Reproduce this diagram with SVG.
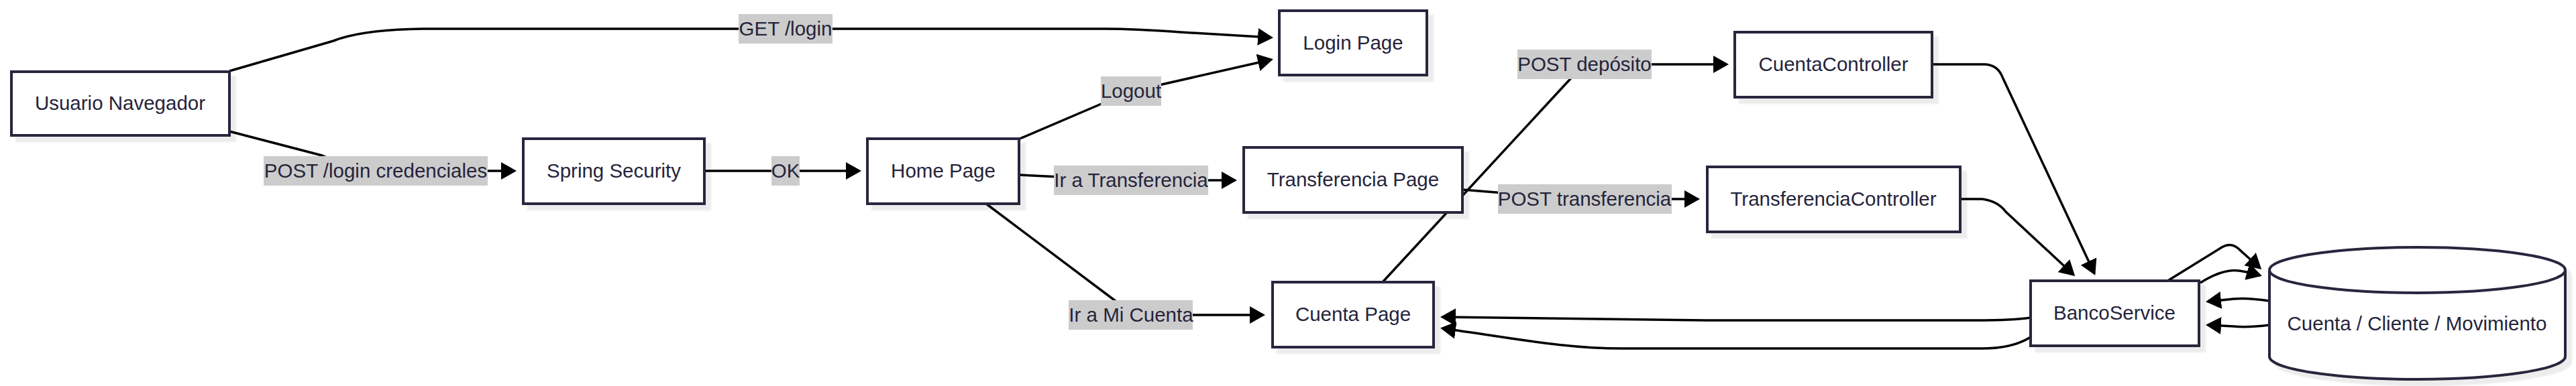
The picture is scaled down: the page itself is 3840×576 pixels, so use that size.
<svg xmlns="http://www.w3.org/2000/svg" width="3840" height="576" viewBox="0 0 3840 576">
<style>
.node rect,.node path.shape{fill:#ffffff;stroke:#27263d;stroke-width:4;filter:url(#shadow)}
.node path.rim{fill:none;stroke:#27263d;stroke-width:4}
.node text{font-family:"Liberation Sans",Arial,sans-serif;font-size:29.5px;fill:#25243b;text-anchor:middle}
.edge{fill:none;stroke:#000;stroke-width:3.5;marker-end:url(#arrow)}
.lbl rect{fill:#cccccc}
.lbl text{font-family:"Liberation Sans",Arial,sans-serif;font-size:29.5px;fill:#25243b;text-anchor:middle}
</style>
<defs>
<marker id="arrow" markerUnits="userSpaceOnUse" markerWidth="24" markerHeight="28" viewBox="0 0 24 28" refX="20" refY="13" orient="auto">
<path d="M0,0 L23,13 L0,26 z" fill="#000"/>
</marker>
<filter id="shadow" x="-10%" y="-10%" width="130%" height="140%">
<feDropShadow dx="8" dy="8" stdDeviation="1.2" flood-color="#000" flood-opacity="0.075"/>
</filter>
</defs>
<rect width="3840" height="576" fill="#ffffff"/>
<g id="edges">
<path class="edge" d="M342,106 L497,61 Q540,44 630,43 L1648,43 Q1690,43 1760,48 L1895,56"/>
<path class="edge" d="M342,196 L480,232 Q530,255 600,255 L767,255"/>
<path class="edge" d="M1050,255 L1281,255"/>
<path class="edge" d="M1520,207 L1665,145 Q1686,136 1710,131 L1895,89"/>
<path class="edge" d="M1520,261 L1640,267 Q1670,269 1700,269 L1841,269"/>
<path class="edge" d="M1470,304 L1668,453 Q1690,470 1720,470 L1883,470"/>
<path class="edge" d="M2061,421 L2348,110 Q2362,96 2382,96 L2574,96"/>
<path class="edge" d="M2180,283 L2330,295 Q2350,297 2380,297 L2531,297"/>
<path class="edge" d="M2880,96 L2959,96 Q2978,97 2985,115 L3122,408"/>
<path class="edge" d="M2922,297 L2955,297 Q2978,300 2990,316 L3091,410"/>
<path class="edge" d="M3027,474 Q3000,478 2946,478 L2550,478 Q2400,476 2150,473"/>
<path class="edge" d="M3027,503 Q3000,520 2955,520 L2420,520 C2330,520 2260,505 2150,490"/>
<path class="edge" d="M3233,418 L3312,369 Q3327,360 3340,374 L3369,400"/>
<path class="edge" d="M3280,422 Q3315,400 3338,404 Q3352,406 3369,411"/>
<path class="edge" d="M3383,449 Q3350,444 3330,446 L3291,450"/>
<path class="edge" d="M3383,485 Q3350,489 3330,487 L3291,485"/>
</g>
<g id="edge-labels">
<g class="lbl"><rect x="1101" y="21" width="140" height="44"/><text x="1171" y="53">GET /login</text></g>
<g class="lbl"><rect x="393" y="233" width="334" height="44"/><text x="560" y="265">POST /login credenciales</text></g>
<g class="lbl"><rect x="1150" y="233" width="42" height="44"/><text x="1171" y="265">OK</text></g>
<g class="lbl"><rect x="1641" y="114" width="90" height="44"/><text x="1686" y="146">Logout</text></g>
<g class="lbl"><rect x="1571" y="247" width="230" height="44"/><text x="1686" y="279">Ir a Transferencia</text></g>
<g class="lbl"><rect x="1593" y="448" width="185" height="44"/><text x="1686" y="480">Ir a Mi Cuenta</text></g>
<g class="lbl"><rect x="2262" y="74" width="200" height="44"/><text x="2362" y="106">POST depósito</text></g>
<g class="lbl"><rect x="2233" y="275" width="259" height="44"/><text x="2362" y="307">POST transferencia</text></g>
</g>
<g id="usuario" class="node"><rect x="17" y="107" width="325" height="95"/><text x="179" y="164">Usuario Navegador</text></g>
<g id="spring" class="node"><rect x="780" y="207" width="270" height="97"/><text x="915" y="265">Spring Security</text></g>
<g id="home" class="node"><rect x="1293" y="207" width="226" height="97"/><text x="1406" y="265">Home Page</text></g>
<g id="login" class="node"><rect x="1907" y="16" width="220" height="96"/><text x="2017" y="74">Login Page</text></g>
<g id="transferenciaPage" class="node"><rect x="1854" y="220" width="326" height="97"/><text x="2017" y="278">Transferencia Page</text></g>
<g id="cuentaPage" class="node"><rect x="1897" y="421" width="240" height="97"/><text x="2017" y="479">Cuenta Page</text></g>
<g id="cuentaController" class="node"><rect x="2586" y="48" width="294" height="97"/><text x="2733" y="106">CuentaController</text></g>
<g id="transferenciaController" class="node"><rect x="2545" y="249" width="377" height="97"/><text x="2733" y="307">TransferenciaController</text></g>
<g id="bancoService" class="node"><rect x="3027" y="419" width="251" height="97"/><text x="3152" y="477">BancoService</text></g>
<g id="db" class="node">
<path class="shape" d="M3383,403 A220.5,34 0 0 1 3824,403 L3824,532 A220.5,34 0 0 1 3383,532 Z"/>
<path class="rim" d="M3383,403 A220.5,34 0 0 0 3824,403"/>
<text x="3603" y="493">Cuenta / Cliente / Movimiento</text>
</g>
</svg>
